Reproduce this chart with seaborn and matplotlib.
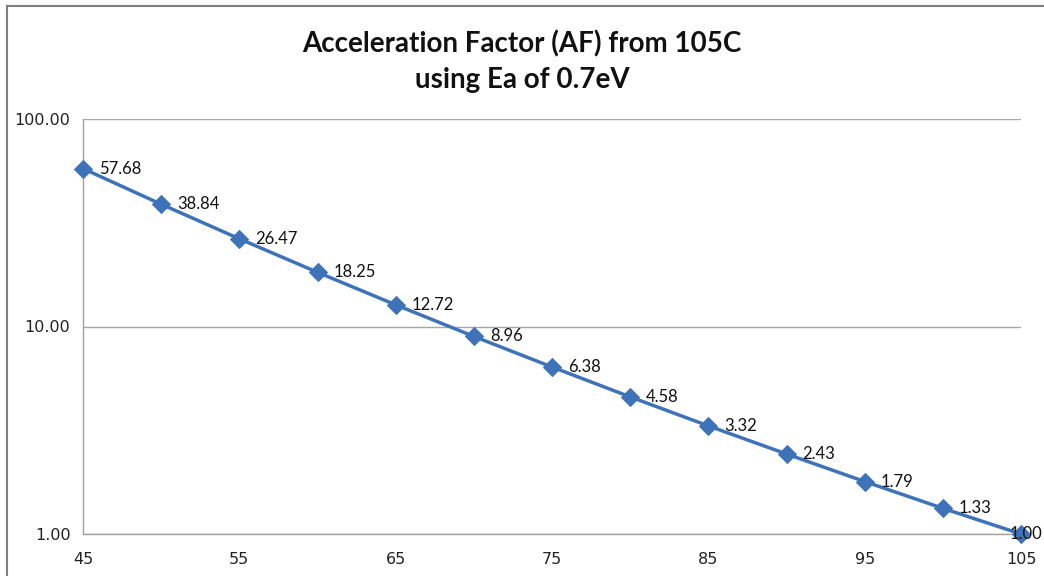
import matplotlib
matplotlib.use("Agg")
import matplotlib.pyplot as plt
import seaborn as sns
import pandas as pd
from matplotlib.ticker import FixedLocator, FixedFormatter, NullLocator
from matplotlib.patches import Rectangle

temps = [45, 50, 55, 60, 65, 70, 75, 80, 85, 90, 95, 100, 105]
af = [57.68, 38.84, 26.47, 18.25, 12.72, 8.96, 6.38, 4.58, 3.32, 2.43, 1.79, 1.33, 1.00]
xticks = [45, 55, 65, 75, 85, 95, 105]
yticks = [1, 10, 100]
ytick_labels = ["1.00", "10.00", "100.00"]
title = "Acceleration Factor (AF) from 105C\nusing Ea of 0.7eV"

df = pd.DataFrame({"temp": temps, "af": af})

sns.set_theme(style="white")
plt.rcParams['font.family'] = ['Lato', 'DejaVu Sans']

fig = plt.figure(figsize=(10.44, 5.76), dpi=100)
ax = fig.add_axes([83/1044, 1-534/576, (1021-83)/1044, (534-119)/576])

color = "#3E73BA"
sns.lineplot(data=df, x="temp", y="af", ax=ax, color=color, linewidth=2.5,
             marker="D", markersize=9, markeredgecolor=color, markerfacecolor=color)
for ln in ax.get_lines():
    ln.set_clip_on(False)
    ln.set_zorder(5)

ax.set_yscale("log")
ax.set_xlim(45, 105)
ax.set_ylim(1, 100)
ax.yaxis.set_major_locator(FixedLocator(yticks))
ax.yaxis.set_major_formatter(FixedFormatter(ytick_labels))
ax.yaxis.set_minor_locator(NullLocator())
ax.set_xticks(xticks)
ax.set_xticklabels([str(t) for t in xticks])
ax.grid(axis="y", color="#a6a6a6", linewidth=1)
ax.set_axisbelow(True)
for s in ["top", "right"]:
    ax.spines[s].set_visible(False)
for s in ["left", "bottom"]:
    ax.spines[s].set_color("#a0a0a0")
    ax.spines[s].set_linewidth(1)
ax.tick_params(axis="both", which="major", length=5, width=1, color="#a0a0a0",
               direction="out", labelcolor="#222222", pad=4)
for lab in ax.get_xticklabels() + ax.get_yticklabels():
    lab.set_family(['DejaVu Sans'])
    lab.set_fontsize(11.5)
ax.tick_params(axis="x", pad=8)
ax.set_xlabel("")
ax.set_ylabel("")

n = len(temps)
for i, (t, v) in enumerate(zip(temps, af)):
    if i == n - 1:
        ax.annotate(f"{v:.2f}", (t, v), xytext=(21, 0), textcoords="offset pixels",
                    ha="right", va="center", fontsize=12, color="#111111",
                    annotation_clip=False, zorder=6)
    else:
        ax.annotate(f"{v:.2f}", (t, v), xytext=(16, 0), textcoords="offset pixels",
                    ha="left", va="center", fontsize=12, color="#111111", zorder=6)

fig.text(0.5, 1-62/576, title, ha="center", va="center", fontsize=20,
         fontweight="bold", linespacing=1.45, color="#111111")

fig.patches.append(Rectangle((7/1044, -0.1), 1.2, 1-6/576+0.1, transform=fig.transFigure,
                             fill=False, edgecolor="#7f7f7f", linewidth=1.5))

fig.savefig("out.png", dpi=100)
